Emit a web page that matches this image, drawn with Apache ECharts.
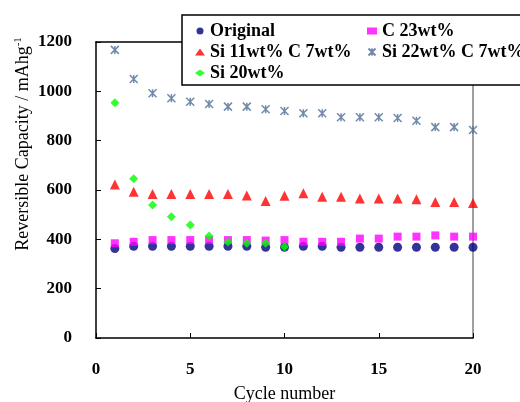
<!DOCTYPE html>
<html>
<head>
<meta charset="utf-8">
<script src="https://cdn.jsdelivr.net/npm/echarts@6/dist/echarts.min.js"></script>
<style>
  html, body { margin: 0; padding: 0; background: #fff; }
  #chart { width: 520px; height: 402px; }
</style>
</head>
<body>
<div id="chart"></div>
<script>
  // cycle numbers 1..20
  var cycles = [1, 2, 3, 4, 5, 6, 7, 8, 9, 10, 11, 12, 13, 14, 15, 16, 17, 18, 19, 20];
  var original = [363, 372, 372, 372, 372, 372, 372, 372, 368, 368, 372, 372, 368, 368, 368, 368, 368, 368, 368, 368];
  var c23 = [384, 390, 397, 397, 397, 397, 397, 397, 395, 397, 390, 390, 390, 403, 403, 411, 411, 416, 411, 411];
  var si11c7 = [622, 593, 584, 584, 584, 584, 584, 578, 555, 577, 587, 573, 573, 566, 566, 566, 563, 551, 551, 547];
  var si22c7 = [1168, 1050, 992, 972, 958, 949, 938, 938, 927, 920, 911, 911, 895, 895, 895, 892, 881, 855, 855, 843];
  var si20 = [954, 646, 539, 492, 458, 414, 389, 384, 384, 370];

  var yTicks = [0, 200, 400, 600, 800, 1000, 1200];

  function pairs(vals) {
    var out = [];
    for (var i = 0; i < vals.length; i++) {
      out.push([cycles[i], vals[i]]);
    }
    return out;
  }

  var serif = '"Liberation Serif", "DejaVu Serif", serif';
  var starPath = 'path://M0,0L10,10M10,0L0,10M5,0L5,10';
  var legendText = { fontFamily: serif, fontWeight: 'bold', fontSize: 18, color: '#000' };

  var chart = echarts.init(document.getElementById('chart'));
  var option = {
    backgroundColor: '#fff',
    animation: false,
    textStyle: { fontFamily: serif },
    grid: { left: 96, right: 47, top: 42, bottom: 64, outerBoundsMode: 'none' },
    legend: [
      {
        data: ['Original', 'Si 11wt% C 7wt%', 'Si 20wt%'],
        orient: 'vertical',
        left: 190, top: 17,
        itemGap: 3, itemWidth: 10, itemHeight: 7,
        textStyle: legendText
      },
      {
        data: ['C 23wt%', 'Si 22wt% C 7wt%'],
        orient: 'vertical',
        left: 362, top: 17,
        itemGap: 3, itemWidth: 10, itemHeight: 7,
        textStyle: legendText
      }
    ],
    graphic: [
      {
        type: 'rect', z: 3,
        shape: { x: 182, y: 15, width: 360, height: 70 },
        style: { fill: '#fff', stroke: '#000', lineWidth: 1.5 }
      },
      {
        type: 'text', x: 23, y: 144, rotation: Math.PI / 2,
        style: {
          text: '{a|Reversible Capacity / mAhg}{s|-1}',
          align: 'center', verticalAlign: 'middle',
          rich: {
            a: { fontFamily: serif, fontSize: 18, fill: '#000' },
            s: { fontFamily: serif, fontSize: 11, fill: '#000', padding: [0, 0, 10, 0] }
          }
        }
      }
    ],
    xAxis: [
      {
        type: 'value', min: 0, max: 20, interval: 5,
        name: 'Cycle number', nameLocation: 'middle', nameGap: 47,
        nameTextStyle: { fontFamily: serif, fontSize: 18, color: '#000' },
        axisLine: { onZero: false, lineStyle: { color: '#000', width: 1.5 } },
        axisTick: { inside: true, length: 5, lineStyle: { color: '#000' } },
        axisLabel: { margin: 23, fontFamily: serif, fontWeight: 'bold', fontSize: 17, color: '#000' },
        splitLine: { show: false }
      },
      {
        type: 'value', min: 0, max: 20, position: 'top',
        axisLine: { show: true, onZero: false, lineStyle: { color: '#000', width: 1.5 } },
        axisTick: { show: false }, axisLabel: { show: false }, splitLine: { show: false }
      }
    ],
    yAxis: [
      {
        type: 'value', min: 0, max: 1200, interval: 200,
        axisLine: { show: true, onZero: false, lineStyle: { color: '#000', width: 1.5 } },
        axisTick: { show: true, inside: true, length: 5, lineStyle: { color: '#000' } },
        axisLabel: {
          margin: 24, fontFamily: serif, fontWeight: 'bold', fontSize: 17, color: '#000',
          formatter: function (v) { return yTicks.indexOf(v) >= 0 ? String(v) : ''; }
        },
        splitLine: { show: false }
      },
      {
        type: 'value', min: 0, max: 1200, position: 'right',
        axisLine: { show: true, onZero: false, lineStyle: { color: '#808080', width: 1.5 } },
        axisTick: { show: false }, axisLabel: { show: false }, splitLine: { show: false }
      }
    ],
    series: [
      {
        name: 'Original', type: 'scatter', data: pairs(original),
        symbol: 'circle', symbolSize: 9,
        itemStyle: { color: '#000080' }
      },
      {
        name: 'C 23wt%', type: 'scatter', data: pairs(c23),
        symbol: 'rect', symbolSize: 8,
        itemStyle: { color: '#ff00ff' }
      },
      {
        name: 'Si 11wt% C 7wt%', type: 'scatter', data: pairs(si11c7),
        symbol: 'triangle', symbolSize: 10,
        itemStyle: { color: '#ff0000' }
      },
      {
        name: 'Si 22wt% C 7wt%', type: 'scatter', data: pairs(si22c7),
        symbol: starPath, symbolSize: 8,
        itemStyle: { color: 'transparent', borderColor: '#4e6d96', borderWidth: 1.5 }
      },
      {
        name: 'Si 20wt%', type: 'scatter', data: pairs(si20),
        symbol: 'diamond', symbolSize: 9,
        itemStyle: { color: '#00ff00' }
      }
    ]
  };
  chart.setOption(option);
</script>
</body>
</html>
